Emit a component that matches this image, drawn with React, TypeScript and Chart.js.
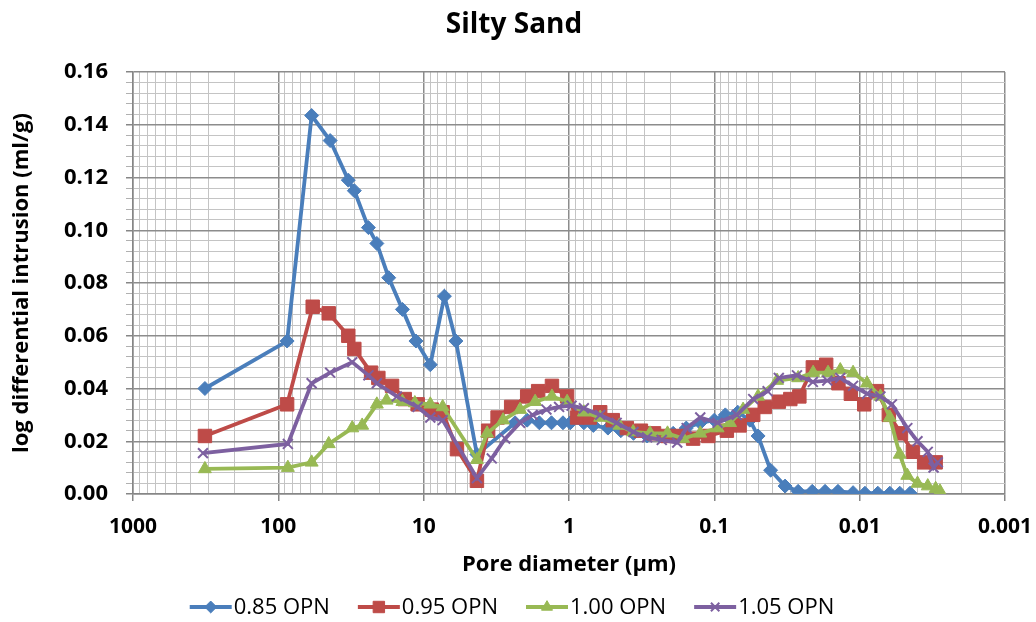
import React, { useEffect, useRef } from 'react';
import { Chart, registerables } from 'chart.js';
import { drawPoint } from 'chart.js/helpers';

Chart.register(...registerables);

const FONT = "'Open Sans', sans-serif";

const TITLE = 'Silty Sand';
const X_TITLE = 'Pore diameter (µm)';
const Y_TITLE = 'log differential intrusion (ml/g)';
const SERIES_NAMES = ['0.85 OPN', '0.95 OPN', '1.00 OPN', '1.05 OPN'];
const X_TICK_LABELS = ['1000', '100', '10', '1', '0.1', '0.01', '0.001'];
const X_DECADES = [0.001, 0.01, 0.1, 1, 10, 100];
const X_MULTIPLIERS = [1, 2, 3, 4, 5, 6, 7, 8, 9];

// 0.85 OPN
const D085 = [320, 87, 59, 44, 33, 30, 24, 21, 17.4, 14, 11.3, 9.0, 7.2, 6.0, 4.3, 2.35, 1.94, 1.6, 1.32, 1.1, 0.98, 0.79, 0.68, 0.54, 0.44, 0.36, 0.29, 0.236, 0.192, 0.156, 0.125, 0.1, 0.084, 0.069, 0.057, 0.05, 0.041, 0.0326, 0.0265, 0.0212, 0.0173, 0.0141, 0.0111, 0.0092, 0.0075, 0.0062, 0.0053, 0.0045];
const V085 = [0.040, 0.058, 0.1435, 0.134, 0.119, 0.115, 0.101, 0.095, 0.082, 0.070, 0.058, 0.049, 0.075, 0.058, 0.015, 0.027, 0.028, 0.027, 0.027, 0.027, 0.027, 0.027, 0.026, 0.025, 0.024, 0.023, 0.022, 0.022, 0.023, 0.025, 0.027, 0.028, 0.030, 0.031, 0.028, 0.022, 0.009, 0.003, 0.001, 0.001, 0.001, 0.001, 0.0005, 0.0003, 0.0003, 0.0003, 0.0003, 0.0003];

// 0.95 OPN
const D095 = [320, 87, 58, 45, 33, 30, 23, 20.5, 16.5, 13.5, 11, 8.8, 7.4, 5.9, 4.3, 3.6, 3.1, 2.5, 1.94, 1.63, 1.31, 1.03, 0.88, 0.72, 0.61, 0.5, 0.4, 0.32, 0.26, 0.21, 0.17, 0.14, 0.11, 0.082, 0.067, 0.054, 0.045, 0.036, 0.03, 0.026, 0.021, 0.017, 0.014, 0.0115, 0.0093, 0.0076, 0.0063, 0.0052, 0.0043, 0.0036, 0.003];
const V095 = [0.022, 0.034, 0.071, 0.0685, 0.060, 0.055, 0.046, 0.044, 0.041, 0.036, 0.034, 0.032, 0.031, 0.017, 0.005, 0.024, 0.029, 0.033, 0.037, 0.039, 0.041, 0.037, 0.029, 0.029, 0.031, 0.028, 0.025, 0.024, 0.023, 0.022, 0.022, 0.021, 0.022, 0.024, 0.026, 0.030, 0.033, 0.035, 0.036, 0.037, 0.048, 0.049, 0.042, 0.038, 0.034, 0.039, 0.030, 0.023, 0.016, 0.012, 0.012];

// 1.00 OPN
const D100 = [320, 86, 59, 45, 31, 26.5, 21, 18, 14, 11.5, 9.0, 7.4, 4.3, 3.66, 2.84, 2.17, 1.71, 1.31, 1.03, 0.79, 0.61, 0.45, 0.362, 0.277, 0.21, 0.164, 0.125, 0.095, 0.078, 0.0634, 0.05, 0.037, 0.0265, 0.0209, 0.0165, 0.0136, 0.0111, 0.0089, 0.0072, 0.0062, 0.0053, 0.0047, 0.004, 0.0034, 0.003, 0.0028];
const V100 = [0.0095, 0.010, 0.012, 0.019, 0.025, 0.026, 0.034, 0.0355, 0.035, 0.0345, 0.034, 0.033, 0.013, 0.023, 0.028, 0.032, 0.035, 0.037, 0.035, 0.031, 0.029, 0.026, 0.0235, 0.023, 0.023, 0.021, 0.023, 0.025, 0.027, 0.032, 0.037, 0.043, 0.044, 0.046, 0.046, 0.047, 0.046, 0.042, 0.037, 0.029, 0.015, 0.007, 0.004, 0.003, 0.002, 0.001];

// 1.05 OPN
const D105 = [330, 86, 59, 44, 31, 24, 21, 15.3, 11, 9.0, 7.4, 4.3, 3.4, 2.75, 2.17, 1.78, 1.43, 1.17, 0.96, 0.79, 0.61, 0.47, 0.36, 0.29, 0.23, 0.18, 0.155, 0.125, 0.095, 0.07, 0.054, 0.043, 0.036, 0.027, 0.021, 0.0167, 0.0136, 0.0111, 0.0089, 0.0072, 0.006, 0.0047, 0.004, 0.0034, 0.0031, 0.0029];
const V105 = [0.0155, 0.019, 0.042, 0.046, 0.050, 0.045, 0.042, 0.037, 0.033, 0.029, 0.028, 0.006, 0.0135, 0.021, 0.027, 0.030, 0.032, 0.033, 0.0335, 0.0325, 0.030, 0.027, 0.0235, 0.0215, 0.0205, 0.0195, 0.025, 0.029, 0.027, 0.030, 0.036, 0.039, 0.044, 0.045, 0.0425, 0.043, 0.044, 0.041, 0.038, 0.037, 0.034, 0.025, 0.020, 0.016, 0.010, 0.012];

const COLORS = ['#4A7EBB', '#BE4B48', '#98B954', '#7D60A0'];
const POINT_STYLES = ['rectRot', 'rect', 'triangle', 'crossRot'];
const POINT_RADII = [7, 9.5, 7.5, 7];

const toPoints = (d: number[], v: number[]) => d.map((x, i) => ({ x, y: v[i] }));

const isDecade = (v: number) => Math.abs(Math.log10(v) - Math.round(Math.log10(v))) < 1e-6;
const isYMajor = (v: number) => Math.abs(Math.round(v / 0.02) * 0.02 - v) < 1e-9;

const decoPlugin = {
  id: 'deco',
  afterDraw(chart: any) {
    const ctx = chart.ctx as CanvasRenderingContext2D;
    ctx.save();
    ctx.fillStyle = '#000';
    ctx.font = `bold 28px ${FONT}`;
    ctx.textAlign = 'center';
    ctx.textBaseline = 'middle';
    ctx.fillText(TITLE, 514, 25);

    ctx.font = `22px ${FONT}`;
    const lineLen = 42;
    const gap = 2;
    const itemGap = 28;
    const widths = SERIES_NAMES.map((n) => ctx.measureText(n).width);
    const total = widths.reduce((a, w) => a + lineLen + gap + w, 0) + itemGap * (SERIES_NAMES.length - 1);
    let x = 512 - total / 2;
    const y = 607;
    chart.data.datasets.forEach((ds: any, i: number) => {
      ctx.strokeStyle = ds.borderColor;
      ctx.lineWidth = 3.8;
      ctx.beginPath();
      ctx.moveTo(x, y);
      ctx.lineTo(x + lineLen, y);
      ctx.stroke();
      ctx.fillStyle = ds.backgroundColor;
      ctx.strokeStyle = ds.borderColor;
      ctx.lineWidth = ds.pointBorderWidth;
      drawPoint(ctx, { pointStyle: ds.pointStyle, radius: ds.pointRadius * 0.85, rotation: 0, borderWidth: ds.pointBorderWidth }, x + lineLen / 2, y);
      ctx.fillStyle = '#000';
      ctx.textAlign = 'left';
      ctx.textBaseline = 'middle';
      ctx.fillText(SERIES_NAMES[i], x + lineLen + gap, y + 1);
      x += lineLen + gap + widths[i] + itemGap;
    });
    ctx.restore();
  },
};

export default function App() {
  const ref = useRef<HTMLCanvasElement | null>(null);

  useEffect(() => {
    if (!ref.current) return;
    const series = [toPoints(D085, V085), toPoints(D095, V095), toPoints(D100, V100), toPoints(D105, V105)];
    const xTicks: number[] = [];
    X_DECADES.forEach((d) => X_MULTIPLIERS.forEach((m) => xTicks.push(Number((d * m).toPrecision(6)))));
    xTicks.push(1000);

    const chart = new Chart(ref.current, {
      type: 'line',
      data: {
        datasets: series.map((data, i) => ({
          label: SERIES_NAMES[i],
          data,
          borderColor: COLORS[i],
          backgroundColor: COLORS[i],
          borderWidth: 3.8,
          pointStyle: POINT_STYLES[i] as any,
          pointRadius: POINT_RADII[i],
          pointBorderWidth: i === 3 ? 2 : 1,
          pointBackgroundColor: COLORS[i],
          pointBorderColor: COLORS[i],
          tension: 0,
          fill: false,
          order: 4 - i,
        })),
      },
      options: {
        animation: false,
        responsive: false,
        devicePixelRatio: 1,
        layout: { padding: { top: 72, right: 31, left: 0, bottom: 0 } },
        plugins: {
          legend: { display: false },
          title: { display: false },
          tooltip: { enabled: false },
        },
        scales: {
          x: {
            type: 'logarithmic',
            min: 0.001,
            max: 1000,
            reverse: true,
            afterBuildTicks: (scale: any) => {
              scale.ticks = xTicks.map((v) => ({ value: v, major: isDecade(v) }));
            },
            afterFit: (scale: any) => {
              scale.height = 128;
            },
            border: { display: true, color: '#868686', width: 1.5 },
            grid: {
              color: (c: any) => (c.tick && isDecade(c.tick.value) ? '#8c8c8c' : '#c4c4c4'),
              lineWidth: (c: any) => (c.tick && isDecade(c.tick.value) ? 1.5 : 1),
              tickColor: (c: any) => (c.tick && isDecade(c.tick.value) ? '#868686' : 'rgba(0,0,0,0)'),
              tickLength: 7,
            },
            ticks: {
              autoSkip: false,
              maxRotation: 0,
              padding: 13,
              color: '#000',
              font: { family: FONT, size: 21, weight: 'bold' },
              callback: (v: any) => {
                const val = Number(v);
                if (!isDecade(val)) return '';
                const lab = X_TICK_LABELS.find((l) => Math.abs(Number(l) - val) < val * 1e-6);
                return lab ?? '';
              },
            },
            title: {
              display: true,
              text: X_TITLE,
              color: '#000',
              font: { family: FONT, size: 22, weight: 'bold' },
              padding: { top: 0, bottom: 44 },
            },
          },
          y: {
            type: 'linear',
            min: 0,
            max: 0.16,
            afterFit: (scale: any) => {
              scale.width = 133;
            },
            border: { display: true, color: '#868686', width: 1.5 },
            grid: {
              color: (c: any) => (c.tick && isYMajor(c.tick.value) ? '#8c8c8c' : '#c4c4c4'),
              lineWidth: (c: any) => (c.tick && isYMajor(c.tick.value) ? 1.5 : 1),
              tickColor: (c: any) => (c.tick && isYMajor(c.tick.value) ? '#868686' : '#b0b0b0'),
              tickLength: 7,
            },
            ticks: {
              stepSize: 0.004,
              autoSkip: false,
              padding: 18,
              color: '#000',
              font: { family: FONT, size: 22, weight: 'bold' },
              callback: (v: any) => (isYMajor(Number(v)) ? Number(v).toFixed(2) : ''),
            },
            title: {
              display: true,
              text: Y_TITLE,
              color: '#000',
              font: { family: FONT, size: 22, weight: 'bold' },
              padding: { top: 9, bottom: 0 },
            },
          },
        },
      },
      plugins: [decoPlugin],
    } as any);

    return () => chart.destroy();
  }, []);

  return (
    <div style={{ position: 'absolute', left: 0, top: 0, width: 1036, height: 622, background: '#fff' }}>
      <canvas ref={ref} width={1036} height={622} style={{ width: 1036, height: 622, display: 'block' }} />
    </div>
  );
}
